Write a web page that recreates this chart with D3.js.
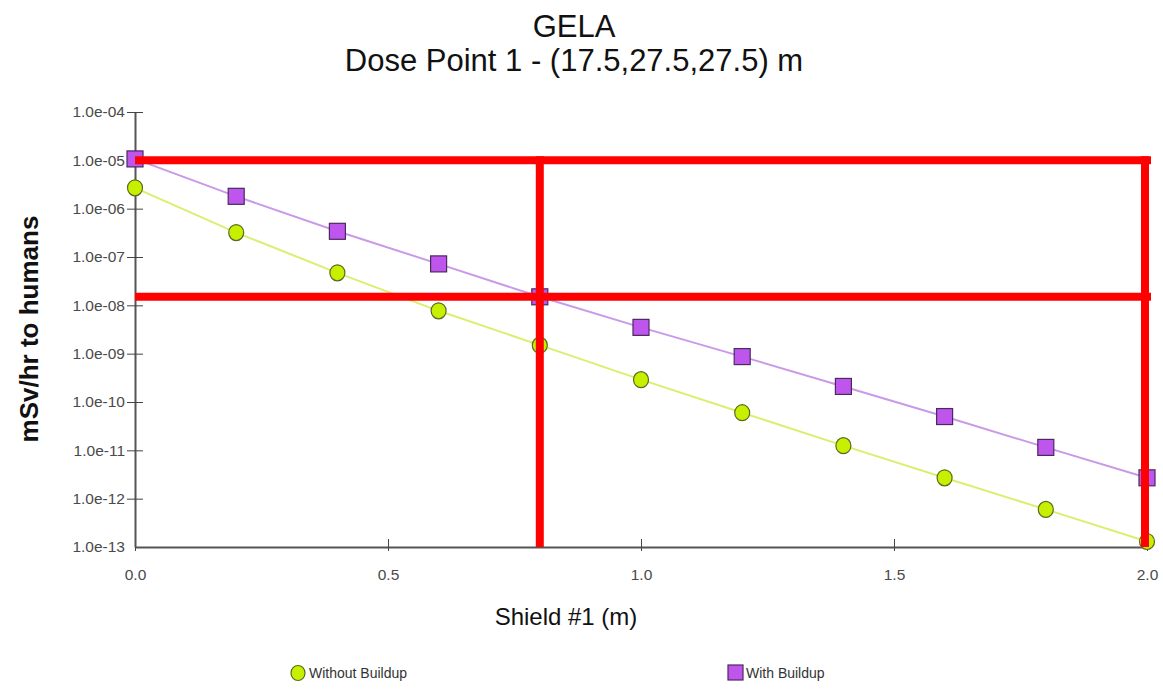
<!DOCTYPE html>
<html lang="en">
<head>
    <meta charset="UTF-8">
    <title>GELA Dose Point 1</title>
    <script src="https://cdnjs.cloudflare.com/ajax/libs/d3/7.8.5/d3.min.js"></script>
    <style>
        body {
            margin: 0;
            background-color: #fff;
            font-family: "Liberation Sans", Arial, sans-serif;
        }
        .tick text {
            font-family: "Liberation Sans", Arial, sans-serif;
            font-size: 15.5px;
            fill: #4a4a4a;
        }
        .legend text {
            font-family: "Liberation Sans", Arial, sans-serif;
            font-size: 14px;
            fill: #333;
        }
    </style>
</head>
<body>
<svg id="chart" width="1163" height="691"></svg>

<script>
// shield thickness (m)
const shield = [0.0, 0.2, 0.4, 0.6, 0.8, 1.0, 1.2, 1.4, 1.6, 1.8, 2.0];
// dose rates, mSv/hr
const withoutBuildup = [2.7e-6, 3.2e-7, 4.7e-8, 7.7e-9, 1.5e-9, 2.9e-10, 6.0e-11, 1.25e-11, 2.7e-12, 6.0e-13, 1.3e-13];
const withBuildup = [1.07e-5, 1.8e-6, 3.4e-7, 7.2e-8, 1.5e-8, 3.5e-9, 8.7e-10, 2.1e-10, 5.0e-11, 1.15e-11, 2.7e-12];
// tick values / labels
const xTicks = [0.0, 0.5, 1.0, 1.5, 2.0];
const yTicks = [1e-4, 1e-5, 1e-6, 1e-7, 1e-8, 1e-9, 1e-10, 1e-11, 1e-12, 1e-13];
// red marker lines drawn over the chart
const redLevels = [1.0e-5, 1.5e-8];
const redShields = [0.8, 2.0];

const svg = d3.select("#chart");
const margin = { top: 112, right: 16, bottom: 144, left: 135 };
const W = 1163, H = 691;

const x = d3.scaleLinear().domain([0, 2]).range([margin.left, W - margin.right]);
const y = d3.scaleLog().domain([1e-13, 1e-4]).range([H - margin.bottom, margin.top]);

const fmtY = d => {
    const e = Math.round(Math.log10(d));
    return "1.0e-" + String(-e).padStart(2, "0");
};

// titles
svg.append("text").attr("x", 574).attr("y", 37).attr("text-anchor", "middle")
    .style("font-size", "31px").style("fill", "#111").text("GELA");
svg.append("text").attr("x", 574).attr("y", 71).attr("text-anchor", "middle")
    .style("font-size", "31px").style("fill", "#111").text("Dose Point 1 - (17.5,27.5,27.5) m");

// axes
const xAxis = svg.append("g")
    .attr("transform", `translate(0,${y(1e-13)})`)
    .call(d3.axisBottom(x).tickValues(xTicks).tickFormat(d3.format(".1f")).tickSize(0).tickPadding(22));
xAxis.selectAll(".tick line").remove();
xAxis.selectAll(".tick").append("line").attr("y1", -8).attr("y2", 4).attr("stroke", "#444");

const yAxis = svg.append("g")
    .attr("transform", `translate(${x(0)},0)`)
    .call(d3.axisLeft(y).tickValues(yTicks).tickFormat(fmtY).tickSize(0).tickPadding(10));
yAxis.selectAll(".tick line").remove();
yAxis.selectAll(".tick").filter(d => d !== 1e-13)
    .append("line").attr("x1", -8).attr("x2", 8).attr("stroke", "#444");
svg.selectAll(".domain").attr("stroke", "#555").attr("stroke-width", 2);

// axis titles
svg.append("text").attr("x", 566).attr("y", 625).attr("text-anchor", "middle")
    .style("font-size", "24px").style("fill", "#111").text("Shield #1 (m)");
svg.append("text").attr("transform", `translate(38,329) rotate(-90)`).attr("text-anchor", "middle")
    .style("font-size", "26px").style("font-weight", "bold").style("fill", "#111").text("mSv/hr to humans");

// series
const line = d3.line().x((d, i) => x(shield[i])).y(d => y(d));

svg.append("path").datum(withoutBuildup).attr("d", line)
    .attr("fill", "none").attr("stroke", "#d8f070").attr("stroke-width", 2);
svg.append("path").datum(withBuildup).attr("d", line)
    .attr("fill", "none").attr("stroke", "#c89ae8").attr("stroke-width", 2);

svg.append("g").selectAll("ellipse").data(withoutBuildup).enter().append("ellipse")
    .attr("cx", (d, i) => x(shield[i])).attr("cy", d => y(d))
    .attr("rx", 7.5).attr("ry", 8)
    .attr("fill", "#c6f000").attr("stroke", "#5a6a20").attr("stroke-width", 1.2);

svg.append("g").selectAll("rect").data(withBuildup).enter().append("rect")
    .attr("x", (d, i) => x(shield[i]) - 8).attr("y", d => y(d) - 8)
    .attr("width", 16).attr("height", 16)
    .attr("fill", "#be55ec").attr("stroke", "#4a2a60").attr("stroke-width", 1.2);

// red annotation lines
const red = svg.append("g").attr("stroke", "#ff0000").attr("stroke-width", 8);
red.selectAll("line.h").data(redLevels).enter().append("line").attr("class", "h")
    .attr("x1", x(0)).attr("x2", x(2) + 4)
    .attr("y1", d => y(d)).attr("y2", d => y(d));
red.selectAll("line.v").data(redShields).enter().append("line").attr("class", "v")
    .attr("x1", d => x(d) - (d === 2 ? 2 : 0)).attr("x2", d => x(d) - (d === 2 ? 2 : 0))
    .attr("y1", y(redLevels[0]) - 4).attr("y2", y(1e-13));

// legend
const legend = svg.append("g").attr("class", "legend");
legend.append("ellipse").attr("cx", 298).attr("cy", 673).attr("rx", 7).attr("ry", 7.5)
    .attr("fill", "#c6f000").attr("stroke", "#5a6a20").attr("stroke-width", 1.2);
legend.append("text").attr("x", 309).attr("y", 678).text("Without Buildup");
legend.append("rect").attr("x", 728).attr("y", 665).attr("width", 15).attr("height", 15)
    .attr("fill", "#be55ec").attr("stroke", "#4a2a60").attr("stroke-width", 1.2);
legend.append("text").attr("x", 746).attr("y", 678).text("With Buildup");
</script>
</body>
</html>
